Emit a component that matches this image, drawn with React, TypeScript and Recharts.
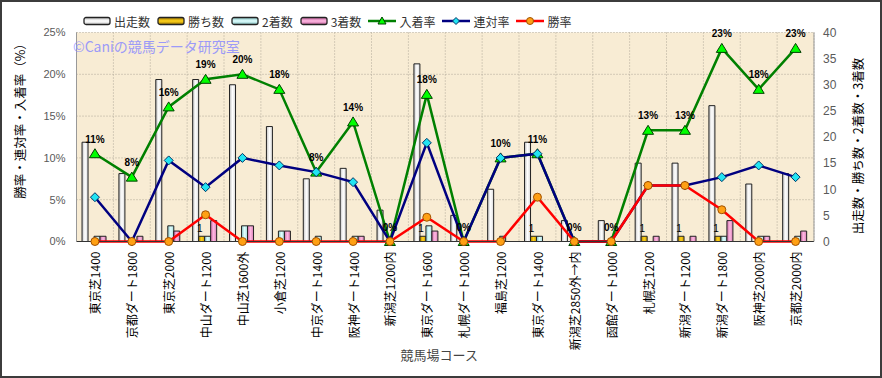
import React from 'react';
import { ComposedChart, Bar, Line, XAxis, YAxis, CartesianGrid, Legend, LabelList, Label } from 'recharts';

const courses = [
  '東京芝1400', '京都ダート1800', '東京芝2000', '中山ダート1200', '中山芝1600外',
  '小倉芝1200', '中京ダート1400', '阪神ダート1400', '新潟芝1200内', '東京ダート1600',
  '札幌ダート1000', '福島芝1200', '東京ダート1400', '新潟芝2850外→内', '函館ダート1000',
  '札幌芝1200', '新潟ダート1200', '新潟ダート1800', '阪神芝2000内', '京都芝2000内',
];
const starts = [19, 13, 31, 31, 30, 22, 12, 14, 6, 34, 5, 10, 19, 4, 4, 15, 15, 26, 11, 13];
const wins = [0, 0, 0, 1, 0, 0, 0, 0, 0, 1, 0, 0, 1, 0, 0, 1, 1, 1, 0, 0];
const seconds = [1, 0, 3, 1, 3, 2, 1, 1, 0, 3, 0, 1, 1, 0, 0, 0, 0, 1, 1, 1];
const thirds = [1, 1, 2, 4, 3, 2, 0, 1, 0, 2, 0, 0, 0, 0, 0, 1, 1, 4, 1, 2];
const placeRate = [10.5, 7.7, 16.1, 19.4, 20, 18.2, 8.3, 14.3, 0, 17.6, 0, 10, 10.5, 0, 0, 13.3, 13.3, 23.1, 18.2, 23.1];
const rentaiRate = [5.3, 0, 9.7, 6.5, 10, 9.1, 8.3, 7.1, 0, 11.8, 0, 10, 10.5, 0, 0, 6.7, 6.7, 7.7, 9.1, 7.7];
const winRate = [0, 0, 0, 3.2, 0, 0, 0, 0, 0, 2.9, 0, 0, 5.3, 0, 0, 6.7, 6.7, 3.8, 0, 0];
const leftTicks = [0, 5, 10, 15, 20, 25];
const rightTicks = [0, 5, 10, 15, 20, 25, 30, 35, 40];

const data = courses.map((course, i) => ({
  course,
  starts: starts[i],
  wins: wins[i],
  seconds: seconds[i],
  thirds: thirds[i],
  placeRate: placeRate[i],
  rentaiRate: rentaiRate[i],
  winRate: winRate[i],
}));

const FONT = '"Noto Sans CJK JP", "Noto Sans", sans-serif';
const NUMFONT = '"Liberation Sans", Arial, sans-serif';

const Triangle = (p: any) => {
  const { cx, cy, index } = p;
  if (cx == null || cy == null) return <g key={`t${index}`} />;
  return (
    <polygon key={`t${index}`} points={`${cx},${cy - 5} ${cx - 5.5},${cy + 4} ${cx + 5.5},${cy + 4}`}
      fill="#00ff00" stroke="#004000" strokeWidth={1} />
  );
};
const Diamond = (p: any) => {
  const { cx, cy, index } = p;
  if (cx == null || cy == null) return <g key={`d${index}`} />;
  return (
    <polygon key={`d${index}`} points={`${cx},${cy - 4.5} ${cx + 4.5},${cy} ${cx},${cy + 4.5} ${cx - 4.5},${cy}`}
      fill="#22e4f2" stroke="#003366" strokeWidth={1} />
  );
};
const Circle = (p: any) => {
  const { cx, cy, index } = p;
  if (cx == null || cy == null) return <g key={`c${index}`} />;
  return <circle key={`c${index}`} cx={cx} cy={cy} r={4} fill="#ffa014" stroke="#a05000" strokeWidth={1} />;
};

const XTick = (p: any) => {
  const { x, y, payload } = p;
  return (
    <text x={x} y={y} transform={`rotate(-90, ${x}, ${y})`} textAnchor="end" dominantBaseline="central"
      fontSize={12} fill="#000" fontFamily={FONT}>
      {payload.value}
    </text>
  );
};

const PlaceLabel = (p: any) => {
  const x = p.x ?? p.viewBox?.x;
  const y = p.y ?? p.viewBox?.y;
  if (x == null || y == null) return null;
  return (
    <text x={x} y={y - 11} textAnchor="middle" fontSize={10} fontWeight="bold" fill="#000" fontFamily={NUMFONT}>
      {`${Math.round(Number(p.value))}%`}
    </text>
  );
};

const WinLabel = (p: any) => {
  const { x, y, width, value } = p;
  if (!value || x == null) return null;
  return (
    <text x={x + width / 2 - 2} y={y - 4} textAnchor="middle" fontSize={10} fill="#000" fontFamily={NUMFONT}>
      {value}
    </text>
  );
};

type Item = { name: string; kind: 'bar' | 'line'; fill?: string; stroke?: string; marker?: string };
const legendItems: Item[] = [
  { name: '出走数', kind: 'bar', fill: 'url(#vStarts)' },
  { name: '勝ち数', kind: 'bar', fill: 'url(#vWins)' },
  { name: '2着数', kind: 'bar', fill: 'url(#vSeconds)' },
  { name: '3着数', kind: 'bar', fill: 'url(#vThirds)' },
  { name: '入着率', kind: 'line', stroke: '#008000', marker: 'tri' },
  { name: '連対率', kind: 'line', stroke: '#000080', marker: 'dia' },
  { name: '勝率', kind: 'line', stroke: '#ff0000', marker: 'cir' },
];

const LegendContent = () => (
  <div style={{ display: 'flex', alignItems: 'center', height: 20, paddingLeft: 83, fontFamily: FONT, fontSize: 12, color: '#333', whiteSpace: 'nowrap' }}>
    {legendItems.map((it) => (
      <div key={it.name} style={{ display: 'flex', alignItems: 'center', marginRight: 7 }}>
        <svg width={28} height={12} style={{ display: 'block' }}>
          {it.kind === 'bar' ? (
            <rect x={1} y={2.5} width={26} height={7} rx={2} fill={it.fill} stroke="#222" strokeWidth={1.3} />
          ) : (
            <g>
              <line x1={0} x2={28} y1={6} y2={6} stroke={it.stroke} strokeWidth={2.5} />
              {it.marker === 'tri' && <polygon points="14,2 10,9 18,9" fill="#00ff00" stroke="#004000" strokeWidth={1} />}
              {it.marker === 'dia' && <polygon points="14,2.5 17.5,6 14,9.5 10.5,6" fill="#22e4f2" stroke="#003366" strokeWidth={1} />}
              {it.marker === 'cir' && <circle cx={14} cy={6} r={3.5} fill="#ffa014" stroke="#a05000" strokeWidth={1} />}
            </g>
          )}
        </svg>
        <span style={{ marginLeft: 3 }}>{it.name}</span>
      </div>
    ))}
  </div>
);

const LeftTitle = (p: any) => {
  const vb = p.viewBox || {};
  const x = vb.x + 3;
  const y = vb.y + vb.height / 2 - 19;
  return (
    <text x={x} y={y} transform={`rotate(-90, ${x}, ${y})`} textAnchor="middle" dominantBaseline="central"
      fontSize={12.5} fill="#000" fontFamily={FONT}>
      勝率・連対率・入着率（%）
    </text>
  );
};
const RightTitle = (p: any) => {
  const vb = p.viewBox || {};
  const x = vb.x + 43;
  const y = vb.y + vb.height / 2 + 9;
  return (
    <text x={x} y={y} transform={`rotate(-90, ${x}, ${y})`} textAnchor="middle" dominantBaseline="central"
      fontSize={12.5} fill="#000" fontFamily={FONT}>
      出走数・勝ち数・2着数・3着数
    </text>
  );
};
const BottomTitle = (p: any) => {
  const vb = p.viewBox || {};
  const x = vb.x + vb.width / 2 - 6;
  const y = vb.y + 113;
  return (
    <text x={x} y={y} textAnchor="middle" dominantBaseline="central" fontSize={13} fill="#444" fontFamily={FONT}>
      競馬場コース
    </text>
  );
};

const hGrad = (id: string, edge: string, mid: string, edge2: string) => (
  <linearGradient id={id} x1="0" y1="0" x2="1" y2="0">
    <stop offset="0%" stopColor={edge} />
    <stop offset="50%" stopColor={mid} />
    <stop offset="100%" stopColor={edge2} />
  </linearGradient>
);
const vGrad = (id: string, edge: string, mid: string, edge2: string) => (
  <linearGradient id={id} x1="0" y1="0" x2="0" y2="1">
    <stop offset="0%" stopColor={edge} />
    <stop offset="50%" stopColor={mid} />
    <stop offset="100%" stopColor={edge2} />
  </linearGradient>
);

export default function App() {
  return (
    <div style={{ position: 'absolute', left: 0, top: 0, width: 882, height: 378, background: '#fff', fontFamily: FONT }}>
      <svg width={0} height={0} style={{ position: 'absolute' }}>
        <defs>
          {hGrad('gStarts', '#c4c4c4', '#ffffff', '#d8d8d8')}
          {hGrad('gWins', '#b88a00', '#ffd21a', '#c89800')}
          {hGrad('gSeconds', '#8cc8c8', '#e0ffff', '#a8dcdc')}
          {hGrad('gThirds', '#d070a8', '#ffb8e2', '#d880b4')}
          {vGrad('vStarts', '#bcbcbc', '#ffffff', '#c8c8c8')}
          {vGrad('vWins', '#a07800', '#ffd21a', '#a07800')}
          {vGrad('vSeconds', '#80bcbc', '#e0ffff', '#80bcbc')}
          {vGrad('vThirds', '#c0609a', '#ffb8e2', '#c0609a')}
        </defs>
      </svg>
      <ComposedChart
        width={882}
        height={378}
        data={data}
        margin={{ top: 12.5, right: 18, bottom: 31.5, left: 16.5 }}
        barCategoryGap="15%"
        barGap={0}
        style={{ fontFamily: FONT }}
      >
        <CartesianGrid
          yAxisId="left"
          fill="#f8ecd4"
          fillOpacity={1}
          stroke="#b0a898"
          strokeDasharray="1 2"
          verticalCoordinatesGenerator={({ offset }: any) =>
            courses.map((_, i) => offset.left + (i * offset.width) / courses.length).concat([offset.left + offset.width])
          }
        />
        <XAxis
          dataKey="course"
          height={105}
          interval={0}
          tick={<XTick />}
          tickLine={false}
          tickSize={6}
          tickMargin={4}
          axisLine={{ stroke: '#333' }}
        >
          <Label content={<BottomTitle />} />
        </XAxis>
        <YAxis
          yAxisId="left"
          orientation="left"
          domain={[0, 25]}
          ticks={leftTicks}
          tickFormatter={(v: number) => `${v}%`}
          width={60}
          axisLine={{ stroke: '#999' }}
          tickLine={false}
          tickMargin={5}
          tick={{ fontSize: 11, fill: '#5a5a5a', fontFamily: NUMFONT }}
        >
          <Label content={<LeftTitle />} />
        </YAxis>
        <YAxis
          yAxisId="right"
          orientation="right"
          domain={[0, 40]}
          ticks={rightTicks}
          width={50}
          axisLine={{ stroke: '#999' }}
          tickLine={false}
          tickMargin={3}
          tick={{ fontSize: 12, fill: '#5a5a5a', fontFamily: NUMFONT }}
        >
          <Label content={<RightTitle />} />
        </YAxis>
        <Legend verticalAlign="top" content={<LegendContent />} wrapperStyle={{ left: 0, top: 11, width: 882, height: 20 }} />
        <Bar yAxisId="right" dataKey="starts" name="出走数" fill="url(#gStarts)" stroke="#222" strokeWidth={1} isAnimationActive={false} />
        <Bar yAxisId="right" dataKey="wins" name="勝ち数" fill="url(#gWins)" stroke="#222" strokeWidth={1} isAnimationActive={false}>
          <LabelList dataKey="wins" content={<WinLabel />} />
        </Bar>
        <Bar yAxisId="right" dataKey="seconds" name="2着数" fill="url(#gSeconds)" stroke="#222" strokeWidth={1} isAnimationActive={false} />
        <Bar yAxisId="right" dataKey="thirds" name="3着数" fill="url(#gThirds)" stroke="#222" strokeWidth={1} isAnimationActive={false} />
        <Line yAxisId="left" dataKey="placeRate" name="入着率" stroke="#008000" strokeWidth={2.5} dot={Triangle} activeDot={false} isAnimationActive={false}>
          <LabelList dataKey="placeRate" content={<PlaceLabel />} />
        </Line>
        <Line yAxisId="left" dataKey="rentaiRate" name="連対率" stroke="#000080" strokeWidth={2.5} dot={Diamond} activeDot={false} isAnimationActive={false} />
        <Line yAxisId="left" dataKey="winRate" name="勝率" stroke="#ff0000" strokeWidth={2.5} dot={Circle} activeDot={false} isAnimationActive={false} />
      </ComposedChart>
      <div style={{ position: 'absolute', left: 73, top: 39, fontSize: 14, lineHeight: '14px', color: '#8c8cff', opacity: 0.85, fontFamily: FONT, whiteSpace: 'nowrap', pointerEvents: 'none' }}>
        ©Caniの競馬データ研究室
      </div>
      <div style={{ position: 'absolute', left: 0, top: 0, width: 882, height: 378, boxSizing: 'border-box', border: '2px solid #3c3c3c', pointerEvents: 'none' }} />
    </div>
  );
}
